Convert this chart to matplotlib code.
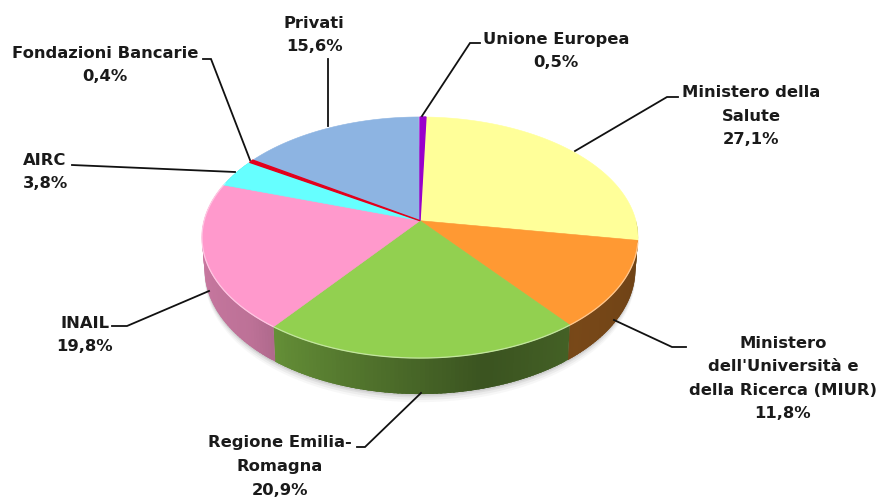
import numpy as np
import matplotlib
matplotlib.use("Agg")
import matplotlib.pyplot as plt
from matplotlib.patches import Polygon

categories = ["Unione Europea", "Ministero della Salute", "Ministero dell'Università e della Ricerca (MIUR)",
              "Regione Emilia-Romagna", "INAIL", "AIRC", "Fondazioni Bancarie", "Privati"]
values = [0.5, 27.1, 11.8, 20.9, 19.8, 3.8, 0.4, 15.6]
top_colors = ["#9900CC", "#FFFF99", "#FF9933", "#92D050", "#FF99CC", "#66FFFF", "#E3001B", "#8DB4E2"]

label_texts = ["Unione Europea\n0,5%", "Ministero della\nSalute\n27,1%",
               "Ministero\ndell'Università e\ndella Ricerca (MIUR)\n11,8%",
               "Regione Emilia-\nRomagna\n20,9%", "INAIL\n19,8%", "AIRC\n3,8%",
               "Fondazioni Bancarie\n0,4%", "Privati\n15,6%"]
label_pos = [(556, 51), (751, 116), (783, 378.5), (280, 466.5), (85, 335), (45, 172), (105, 65), (314, 35)]
leaders = [[(422, 116), (470, 43), (480, 43)],
           [(575, 151), (667, 97), (678, 97)],
           [(614, 320), (672, 347), (686, 347)],
           [(421, 393), (365, 447), (357, 447)],
           [(209, 291), (127, 326), (112, 326)],
           [(235, 172), (72, 165)],
           [(250, 160), (211, 59), (203, 59)],
           [(328, 126), (328, 59)]]

CX, CY, RX, RY, K, DEPTH = 420.0, 220.7, 215.9, 118.2, 0.1394, 31.0

def rim(theta_deg, depth=0.0):
    t = np.radians(theta_deg)
    u, v = np.sin(t), np.cos(t)
    d = 1 + K * v
    shrink = 1 - 0.012 * (depth > 0)
    return CX + RX * u / d * shrink, CY - RY * v / d + depth / d

def shade(theta):
    return np.interp(theta, [90, 140, 165, 216, 225, 270, 300], [.42, .47, .40, .68, .74, .80, .80])

fig = plt.figure(figsize=(8.77, 4.98), dpi=100)
ax = fig.add_axes([0, 0, 1, 1])
ax.set_xlim(0, 877)
ax.set_ylim(498, 0)
ax.axis("off")

edges = np.concatenate([[0], np.cumsum(values)]) * 3.6

# soft shadow under the disc
full = np.linspace(0, 360, 361)
for extra, alpha in [(7, .04), (5, .06), (3, .08), (1.5, .10)]:
    x, y = rim(full, DEPTH + extra)
    ax.fill(x, y, color="#444444", alpha=alpha, lw=0, zorder=1)

# side wall: painted front to back so each strip overlaps the seam of the previous one
for i, (a, b) in enumerate(zip(edges[:-1], edges[1:])):
    steps = np.arange(a, b + 1.0, 1.0)
    steps[-1] = b
    for s0, s1 in zip(steps[:-1], steps[1:]):
        mid = (s0 + s1) / 2
        if not 90 <= mid <= 300:
            continue
        ts = np.linspace(s0, min(s1 + 1.5, b), 4)
        xt, yt = rim(ts)
        xb, yb = rim(ts, DEPTH)
        col = np.array(matplotlib.colors.to_rgb(top_colors[i])) * shade(mid)
        ax.add_patch(Polygon(np.column_stack([np.r_[xt, xb[::-1]], np.r_[yt, yb[::-1]]]),
                             fc=col, ec="none", lw=0, zorder=2))

# top faces
for i, (a, b) in enumerate(zip(edges[:-1], edges[1:])):
    ts = np.linspace(a, b, max(3, int(b - a) * 2))
    x, y = rim(ts)
    w = 1.0 if values[i] < 1 else 0.4
    ax.add_patch(Polygon(np.column_stack([np.r_[CX, x], np.r_[CY, y]]), fc=top_colors[i],
                         ec=top_colors[i], lw=w, zorder=3 + (values[i] < 1) * .5))
    fr = ts[(ts > 100) & (ts < 290)]
    if len(fr) > 1:
        xr, yr = rim(fr)
        light = 0.55 * np.array(matplotlib.colors.to_rgb(top_colors[i])) + 0.45
        ax.plot(xr, yr, color=light, lw=.9, zorder=4, solid_capstyle="butt")

for pts in leaders:
    px, py = zip(*pts)
    ax.plot(px, py, color="#111111", lw=1.3, zorder=5, solid_joinstyle="miter")

for txt, (x, y) in zip(label_texts, label_pos):
    ax.text(x, y, txt, ha="center", va="center", fontsize=11.8, fontweight="bold",
            family="DejaVu Sans", color="#1a1a1a", linespacing=1.72, zorder=6)

fig.savefig("out.png", dpi=100)
